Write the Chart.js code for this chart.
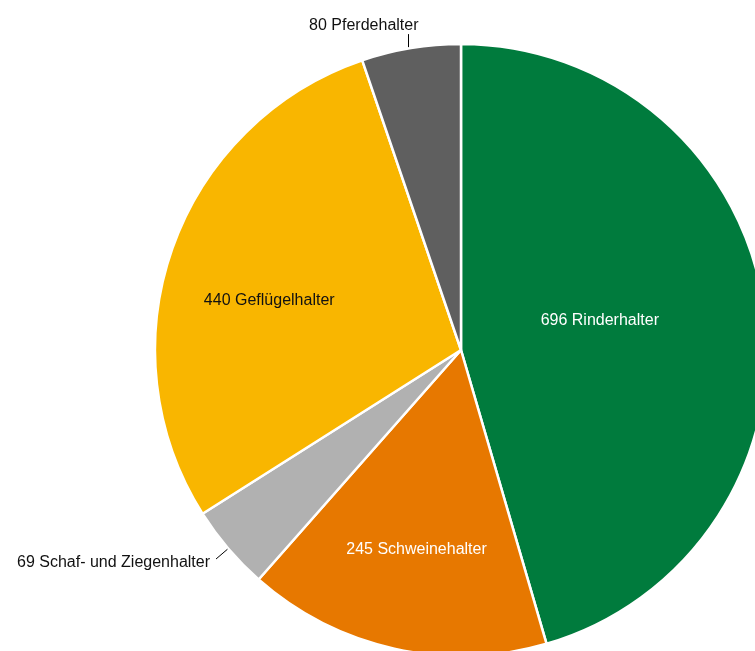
<!DOCTYPE html>
<html>
<head>
<meta charset="utf-8">
<script src="https://cdn.jsdelivr.net/npm/chart.js@4/dist/chart.umd.min.js"></script>
<style>
  html, body { margin: 0; padding: 0; background: #fff; overflow: hidden; }
  #wrap { width: 755px; height: 651px; }
</style>
</head>
<body>
<div id="wrap"><canvas id="pie" width="755" height="651"></canvas></div>
<script>
// --- Daten ---
const categories = ['Rinderhalter', 'Schweinehalter', 'Schaf- und Ziegenhalter', 'Geflügelhalter', 'Pferdehalter'];
const values = [696, 245, 69, 440, 80];
const colors = ['#007b3d', '#e77800', '#b1b1b1', '#f9b600', '#5f5f5f'];
const labelColors = ['#ffffff', '#ffffff', '#111111', '#111111', '#111111'];
// Label innen (Anteil vom Radius) oder außen mit Führungslinie
const labelPlacement = [0.464, 0.667, 'outside', 0.647, 'outside'];
const labelAngleShift = [-4, 0, 0, -5, 0]; // Grad

const LABEL_FONT = '16px "Liberation Sans", Arial, sans-serif';

// --- Plugin für die Beschriftungen ---
const sliceLabels = {
    id: 'sliceLabels',
    afterDatasetsDraw(chart) {
        const ctx = chart.ctx;
        const meta = chart.getDatasetMeta(0);
        ctx.save();
        ctx.font = LABEL_FONT;
        meta.data.forEach((arc, i) => {
            const { x, y, startAngle, endAngle, outerRadius } = arc.getProps(['x', 'y', 'startAngle', 'endAngle', 'outerRadius'], true);
            const mid = (startAngle + endAngle) / 2 + labelAngleShift[i] * Math.PI / 180;
            const text = values[i] + ' ' + categories[i];
            const cos = Math.cos(mid), sin = Math.sin(mid);
            ctx.fillStyle = labelColors[i];

            if (labelPlacement[i] !== 'outside') {
                const r = outerRadius * labelPlacement[i];
                ctx.textAlign = 'center';
                ctx.textBaseline = 'middle';
                ctx.fillText(text, x + cos * r, y + sin * r);
                return;
            }

            ctx.strokeStyle = '#000';
            ctx.lineWidth = 1;
            ctx.beginPath();
            if (Math.abs(sin) > 0.9) {
                // oben: senkrechte Linie, Text darüber
                const lx = Math.round(x + cos * outerRadius) - 2.5;
                const ly = y + sin * outerRadius;
                ctx.moveTo(lx, ly - 1);
                ctx.lineTo(lx, ly - 14);
                ctx.stroke();
                ctx.textAlign = 'right';
                ctx.textBaseline = 'bottom';
                ctx.fillText(text, lx + 10, ly - 15);
            } else {
                const x1 = x + cos * (outerRadius + 1), y1 = y + sin * (outerRadius + 1);
                const x2 = x + cos * (outerRadius + 16), y2 = y + sin * (outerRadius + 16);
                ctx.moveTo(x1, y1);
                ctx.lineTo(x2, y2);
                ctx.stroke();
                ctx.textAlign = cos < 0 ? 'right' : 'left';
                ctx.textBaseline = 'middle';
                ctx.fillText(text, x2 + (cos < 0 ? -6 : 6), y2 + 4);
            }
        });
        ctx.restore();
    }
};

new Chart(document.getElementById('pie'), {
    type: 'pie',
    data: {
        labels: categories,
        datasets: [{
            data: values,
            backgroundColor: colors,
            borderColor: '#ffffff',
            borderWidth: 2.5
        }]
    },
    options: {
        responsive: false,
        animation: false,
        devicePixelRatio: 1,
        radius: 306,
        layout: { padding: { left: 167, top: 49, right: 0, bottom: 0 } },
        plugins: {
            legend: { display: false },
            tooltip: { enabled: false }
        }
    },
    plugins: [sliceLabels]
});
</script>
</body>
</html>
